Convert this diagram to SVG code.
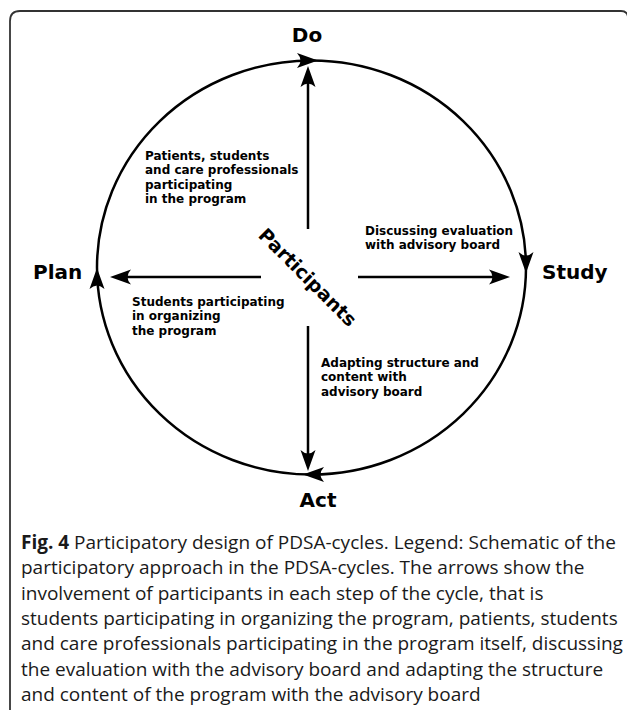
<svg xmlns="http://www.w3.org/2000/svg" width="627" height="710" viewBox="0 0 627 710">
<style>
.big{font-family:"DejaVu Sans",Verdana,sans-serif;font-weight:bold;font-size:20px;fill:#000}
.lbl{font-family:"DejaVu Sans",Verdana,sans-serif;font-weight:bold;font-size:12px;fill:#000}
.cap{font-family:"Open Sans","Noto Sans",sans-serif;font-size:19px;fill:#1a1a1a}
.ln{fill:none;stroke:#000;stroke-width:2.5}
</style>
<defs>
<path id="ah" d="M0,0 L-21,-7.5 Q-14,0 -21,7.5 Z" fill="#000"/>
</defs>
<rect width="627" height="710" fill="#fff"/>
<path d="M10,710 V21 Q10,11 20,11 H621 Q628,11 628,18 V710" fill="none" stroke="#333" stroke-width="1.8"/>
<g id="connectors">
<ellipse class="ln" cx="311.5" cy="267.5" rx="214.5" ry="207"/>
<use href="#ah" transform="translate(318,60.5)"/>
<use href="#ah" transform="translate(526,273) rotate(90)"/>
<use href="#ah" transform="translate(303,474.5) rotate(180)"/>
<use href="#ah" transform="translate(97,268) rotate(-90)"/>
<line class="ln" x1="308" y1="229" x2="308" y2="80"/>
<use href="#ah" transform="translate(308,66) rotate(-90)"/>
<line class="ln" x1="308" y1="326" x2="308" y2="458"/>
<use href="#ah" transform="translate(308,471) rotate(90)"/>
<line class="ln" x1="261" y1="277" x2="124" y2="277"/>
<use href="#ah" transform="translate(110,277) rotate(180)"/>
<line class="ln" x1="358" y1="277" x2="496" y2="277"/>
<use href="#ah" transform="translate(510,277)"/>
</g>
<g id="do"><text class="big" x="307" y="42" text-anchor="middle">Do</text></g>
<g id="plan"><text class="big" x="33" y="279">Plan</text></g>
<g id="study"><text class="big" x="542" y="279">Study</text></g>
<g id="act"><text class="big" x="318" y="507" text-anchor="middle">Act</text></g>
<g id="participants"><text class="big" transform="translate(308,277) rotate(45)" x="0" y="7" text-anchor="middle" style="font-size:19px">Participants</text></g>
<g id="label-do">
<text class="lbl" x="145" y="160">Patients, students</text>
<text class="lbl" x="145" y="174.3">and care professionals</text>
<text class="lbl" x="145" y="188.6">participating</text>
<text class="lbl" x="145" y="202.9">in the program</text>
</g>
<g id="label-study">
<text class="lbl" x="365" y="235">Discussing evaluation</text>
<text class="lbl" x="365" y="249.3">with advisory board</text>
</g>
<g id="label-plan">
<text class="lbl" x="132" y="306">Students participating</text>
<text class="lbl" x="132" y="320.3">in organizing</text>
<text class="lbl" x="132" y="334.6">the program</text>
</g>
<g id="label-act">
<text class="lbl" x="321" y="367">Adapting structure and</text>
<text class="lbl" x="321" y="381.3">content with</text>
<text class="lbl" x="321" y="395.6">advisory board</text>
</g>
<g id="caption">
<text class="cap" x="21" y="549"><tspan font-weight="bold">Fig. 4</tspan> Participatory design of PDSA-cycles. Legend: Schematic of the</text>
<text class="cap" x="21" y="574.3">participatory approach in the PDSA-cycles. The arrows show the</text>
<text class="cap" x="21" y="599.6">involvement of participants in each step of the cycle, that is</text>
<text class="cap" x="21" y="624.9">students participating in organizing the program, patients, students</text>
<text class="cap" x="21" y="650.2">and care professionals participating in the program itself, discussing</text>
<text class="cap" x="21" y="675.5">the evaluation with the advisory board and adapting the structure</text>
<text class="cap" x="21" y="700.8">and content of the program with the advisory board</text>
</g>
</svg>
